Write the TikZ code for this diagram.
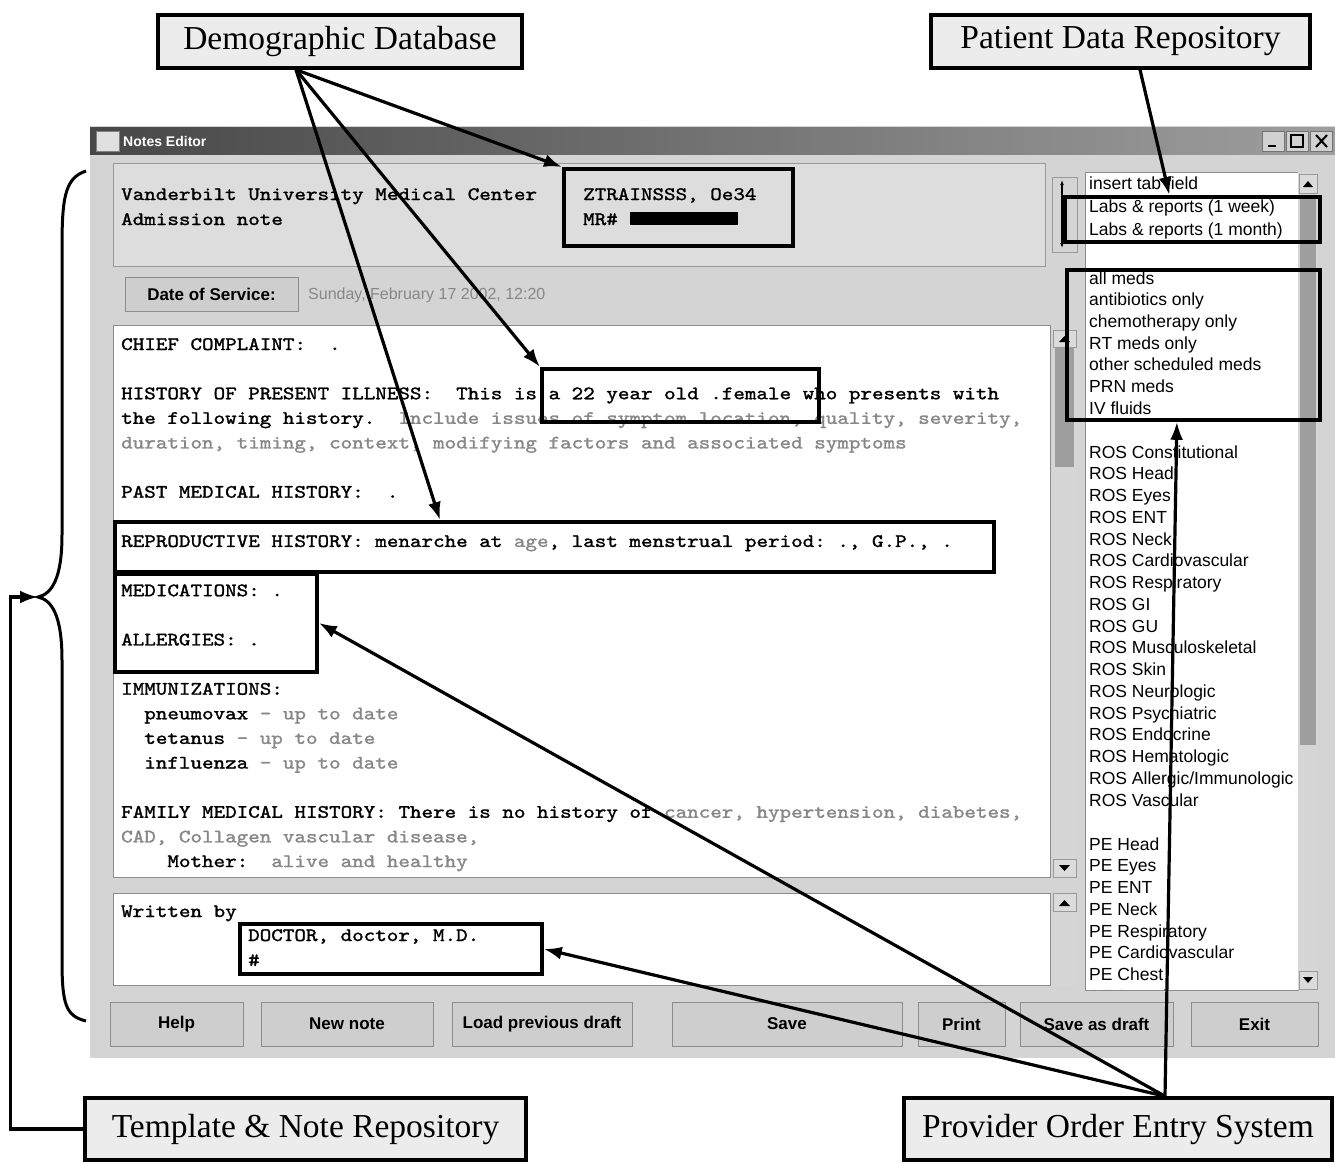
\documentclass[tikz,border=0pt]{standalone}
\usepackage{fontspec}
\setmainfont{Liberation Serif}
\setsansfont{Liberation Sans}
\setmonofont{lmmono10-regular.otf}[FakeBold=1.3]
\usepackage{graphicx}
\usetikzlibrary{arrows.meta}
\definecolor{winbg}{RGB}{212,212,212}
\definecolor{notegray}{RGB}{135,135,135}
\definecolor{calloutbg}{RGB}{236,236,236}
\definecolor{btnbg}{RGB}{206,206,206}
\definecolor{thumb}{RGB}{158,158,158}
\newcommand{\cw}[1]{\scalebox{1.158}[1]{#1}}

\begin{document}
\begin{tikzpicture}[x=1pt,y=-1pt,
    callout/.style={draw, line width=3.5pt, fill=calloutbg, inner sep=0pt, minimum height=53pt, font=\fontsize{33.5}{33.5}\selectfont},
    hl/.style={draw, line width=3.8pt, inner sep=0pt, anchor=north west},
    conn/.style={-{Latex[length=18pt,width=13pt]}, line width=3.2pt},
    mono/.style={anchor=base west, inner sep=0pt, font=\ttfamily\fontsize{19}{19}\selectfont\frenchspacing},
    listtxt/.style={anchor=base west, inner sep=0pt, font=\sffamily\fontsize{17.5}{17.5}\selectfont},
    btn/.style={draw=black!45, fill=btnbg, line width=1pt, inner sep=0pt, minimum height=44pt, font=\sffamily\bfseries\fontsize{17}{17}\selectfont}]
    \useasboundingbox[fill=white] (0,0) rectangle (1335,1163);

    % Window:
    \fill[winbg] (90,126) rectangle (1335,1058);
    \shade[left color=black!72, right color=black!38] (90,127) rectangle (1335,154);
    \draw[black!50, fill=black!12] (96,131) rectangle (119,151);
    \node[anchor=west, inner sep=0pt, text=white, font=\sffamily\bfseries\fontsize{14}{14}\selectfont] (title) at (123,141) {Notes Editor};
    \foreach \x in {1262,1286,1310}
        \draw[black!55, fill=black!18] (\x,131) rectangle ++(22,20);
    \draw[line width=2pt] (1268,146) -- (1276,146);
    \draw[line width=1.5pt] (1291,135) rectangle (1303,147);
    \draw[line width=2pt] (1316,135) -- (1327,147) (1316,147) -- (1327,135);

    % header panel
    \draw[black!40, fill=winbg!80!white] (113,163) rectangle (1045,266);
    \draw[black!40, fill=winbg] (1052,177) rectangle (1077,252);
    \draw[{Latex[length=5pt]}-{Latex[length=5pt]}, line width=1.3pt] (1062,180) -- (1062,248);
    \node[mono] (vumc) at (121,200) {\cw{Vanderbilt University Medical Center}};
    \node[mono] (adm) at (121,225) {\cw{Admission note}};
    \node[mono] (ztxt) at (583,200) {\cw{ZTRAINSSS, Oe34}};
    \node[mono] (mrtxt) at (583,225) {\cw{MR\#}};
    \fill (630,212) rectangle (738,225);

    \node[btn, minimum width=173pt, minimum height=34pt] (dos) at (211.5,294) {Date of Service:};
    \node[anchor=base west, inner sep=0pt, text=notegray, font=\sffamily\fontsize{16}{16}\selectfont] (dosdate) at (308,299) {Sunday, February 17 2002, 12:20};

    % note text area
    \draw[black!45, fill=white] (113,325) rectangle (1050,877);
    \fill[black!16] (1053,330) rectangle (1076,877);
    \fill[thumb] (1055,347) rectangle (1074,467);
    \draw[black!40, fill=black!14] (1053,330) rectangle (1076,347) (1053,859) rectangle (1076,877);
    \fill (1059,342) -- (1070,342) -- (1064.5,336) -- cycle;
    \fill (1059,865) -- (1070,865) -- (1064.5,871) -- cycle;
    \foreach \k/\t in {0/{CHIEF COMPLAINT:~~.},
            2/{HISTORY OF PRESENT ILLNESS:~~This is a 22 year old .female who presents with},
            3/{the following history.~~\textcolor{notegray}{Include issues of symptom location, quality, severity,}},
            4/{\textcolor{notegray}{duration, timing, context, modifying factors and associated symptoms}},
            6/{PAST MEDICAL HISTORY:~~.},
            8/{REPRODUCTIVE HISTORY: menarche at \textcolor{notegray}{age}, last menstrual period: ., G.P., .},
            10/{MEDICATIONS: .},
            12/{ALLERGIES: .},
            14/{IMMUNIZATIONS:},
            15/{~~pneumovax \textcolor{notegray}{- up to date}},
            16/{~~tetanus \textcolor{notegray}{- up to date}},
            17/{~~influenza \textcolor{notegray}{- up to date}},
            19/{FAMILY MEDICAL HISTORY: There is no history of \textcolor{notegray}{cancer, hypertension, diabetes,}},
            20/{\textcolor{notegray}{CAD, Collagen vascular disease,}},
            21/{~~~~Mother:~~\textcolor{notegray}{alive and healthy}}}
        \node[mono] (line\k) at (121,{350+24.62*\k}) {\cw{\t}};

    % written by
    \draw[black!45, fill=white] (113,893) rectangle (1050,985);
    \fill[black!16] (1053,893) rectangle (1076,985);
    \draw[black!40, fill=black!14] (1053,893) rectangle (1076,911);
    \fill (1059,906) -- (1070,906) -- (1064.5,900) -- cycle;
    \node[mono] (wby) at (121,917) {\cw{Written by}};
    \node[mono] (doc) at (248,941) {\cw{DOCTOR, doctor, M.D.}};
    \node[mono] (docnum) at (248,966) {\cw{\#}};

    % field list
    \draw[black!45, fill=white] (1085,172) rectangle (1298,990);
    \fill[black!16] (1298,172) rectangle (1318,990);
    \fill[thumb] (1300,195) rectangle (1316,745);
    \draw[black!40, fill=black!14] (1299,174) rectangle (1317,193) (1299,971) rectangle (1317,989);
    \fill (1303,187) -- (1313,187) -- (1308,181) -- cycle;
    \fill (1303,977) -- (1313,977) -- (1308,983) -- cycle;
    \begin{scope}
        \clip (1086,173) rectangle (1297,989);
        \foreach \t [count=\i from 0] in {insert tab field, {Labs \& reports (1 week)}, {Labs \& reports (1 month)}}
            \node[listtxt] (tab\i) at (1089,{189+23*\i}) {\t};
        \foreach \t [count=\i from 0] in {all meds, antibiotics only, chemotherapy only, RT meds only, other scheduled meds, PRN meds, IV fluids}
            \node[listtxt] (med\i) at (1089,{284+21.67*\i}) {\t};
        \foreach \t [count=\i from 0] in {Constitutional, Head, Eyes, ENT, Neck, Cardiovascular, Respiratory, GI, GU, Musculoskeletal, Skin, Neurologic, Psychiatric, Endocrine, Hematologic, {Allergic/Immunologic}, Vascular}
            \node[listtxt] (ros\i) at (1089,{458+21.75*\i}) {ROS \t};
        \foreach \t [count=\i from 0] in {Head, Eyes, ENT, Neck, Respiratory, Cardiovascular, Chest, Rectal}
            \node[listtxt] (pe\i) at (1089,{850+21.75*\i}) {PE \t};
    \end{scope}

    % buttons
    \foreach \c/\w/\t [count=\i] in {176.5/133/Help, 347/172/New note, 542/180/Load previous draft, 787/230/Save, 961.5/87/Print, 1096.5/153/Save as draft, 1254.5/127/Exit}
        \node[btn, minimum width=\w pt] (btn\i) at (\c,1024) {\t};

    % highlighted fields
    \node[hl, minimum width=229pt, minimum height=77pt] (ztrain) at (562,167) {};
    \node[hl, minimum width=277pt, minimum height=53pt] (age) at (540,367) {};
    \node[hl, minimum width=879pt, minimum height=50pt] (repro) at (113,520) {};
    \node[hl, minimum width=202pt, minimum height=98pt] (medall) at (113,572) {};
    \node[hl, minimum width=302pt, minimum height=50pt] (doctor) at (238,922) {};
    \node[hl, minimum width=255pt, minimum height=45pt] (labs) at (1063,195) {};
    \node[hl, minimum width=253pt, minimum height=150pt] (meds) at (1065,268) {};

    % callouts
    \node[callout, minimum width=364pt] (demo) at (340,41.5) {Demographic Database};
    \node[callout, minimum width=379pt] (pdr) at (1120.5,41.5) {Patient Data Repository};
    \node[callout, minimum width=441pt, minimum height=62pt] (tnr) at (305.5,1129) {Template \& Note Repository};
    \node[callout, minimum width=428pt, minimum height=62pt] (poe) at (1118,1129) {Provider Order Entry System};

    % brace
    \coordinate (bracetip) at (38,597);
    \draw[line width=3pt] (86,171) .. controls (64,178) and (62,200) .. (62,250) -- (62,535)
        .. controls (62,578) and (52,594) .. (bracetip)
        .. controls (52,600) and (62,616) .. (62,660) -- (62,960)
        .. controls (62,1005) and (66,1016) .. (86,1021);

    % arrows
    \draw[conn] ([xshift=-44pt]demo.south) -- (ztrain.north west);
    \draw[conn] ([xshift=-44pt]demo.south) -- (age.north west);
    \draw[conn] ([xshift=-44pt]demo.south) -- ([xshift=327pt]repro.north west);
    \draw[conn] ([xshift=19.5pt]pdr.south) -- ([xshift=-23pt]labs.north);
    \draw[conn] ([xshift=47pt]poe.north) -- ([xshift=-16.5pt]meds.south);
    \draw[conn] ([xshift=47pt]poe.north) -- (medall.east);
    \draw[conn] ([xshift=47pt]poe.north) -- (doctor.east);
    \draw[conn] (tnr.west) -- ++(-73,0) |- (bracetip);
\end{tikzpicture}
\end{document}
